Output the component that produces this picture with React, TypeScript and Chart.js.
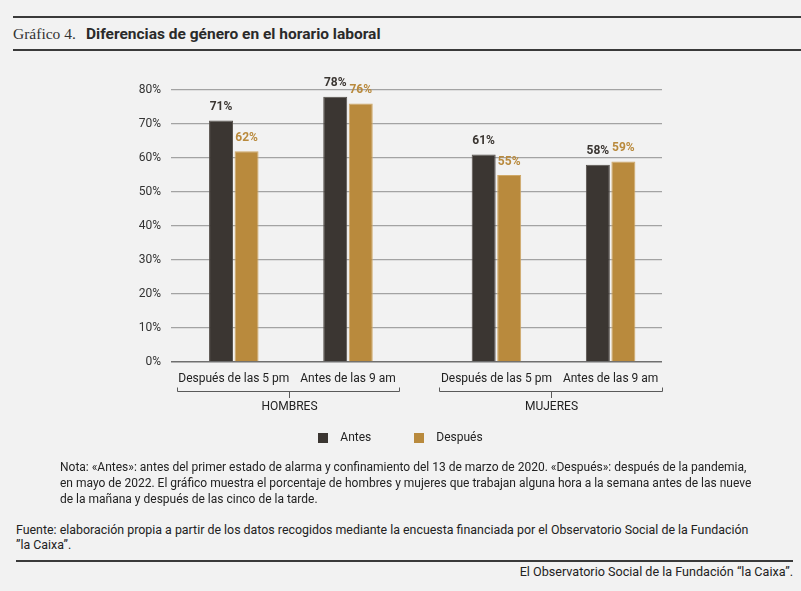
import { useEffect, useRef } from "react";
import { Chart, registerables } from "chart.js";

Chart.register(...registerables);

// ---- data ----
const groups = ["HOMBRES", "MUJERES"];
const categories = ["Después de las 5 pm", "Antes de las 9 am"];
const seriesNames = ["Antes", "Después"];
const antesValues = [71, 78, 61, 58];
const despuesValues = [62, 76, 55, 59];
const yTickValues = [0, 10, 20, 30, 40, 50, 60, 70, 80];

// ---- layout / style constants ----
const seriesColors = ["#3b3632", "#b98a3d"];
const seriesBorders = ["#55504b", "#cfa867"];
const GROUP_STRIDE = 2.3; // categories per group + gap, in x units
const FONT = "Roboto, 'Noto Sans', sans-serif";

const positions: number[] = [];
const tickLabels: string[] = [];
groups.forEach((_, g) => {
  categories.forEach((c, ci) => {
    positions.push(g * GROUP_STRIDE + ci);
    tickLabels.push(c);
  });
});

const annotatePlugin = {
  id: "annotate",
  afterDraw(chart: any) {
    const { ctx, chartArea, scales } = chart;
    const xs = scales.x;
    ctx.save();
    // value labels
    chart.data.datasets.forEach((ds: any, di: number) => {
      const meta = chart.getDatasetMeta(di);
      meta.data.forEach((el: any, i: number) => {
        const v = ds.data[i].y;
        ctx.fillStyle = seriesColors[di];
        ctx.font = `bold 12px ${FONT}`;
        ctx.textAlign = "center";
        ctx.textBaseline = "middle";
        ctx.fillText(v + "%", el.x, el.y - 13.5);
      });
    });
    // group brackets
    const by = Math.round(chartArea.bottom + 29) + 0.5;
    ctx.strokeStyle = "#5a5a5a";
    ctx.lineWidth = 1;
    groups.forEach((name, g) => {
      const start = g * GROUP_STRIDE;
      const x1 = Math.round(xs.getPixelForValue(start - 0.5)) + 0.5;
      const x2 = Math.round(xs.getPixelForValue(start + categories.length - 0.55)) + 0.5;
      const xm = Math.round((x1 + x2) / 2) + 0.5;
      ctx.beginPath();
      ctx.moveTo(x1, by - 4);
      ctx.lineTo(x1, by);
      ctx.lineTo(x2, by);
      ctx.lineTo(x2, by - 4);
      ctx.moveTo(xm, by);
      ctx.lineTo(xm, by + 6.5);
      ctx.stroke();
      ctx.fillStyle = "#222";
      ctx.font = `12px ${FONT}`;
      ctx.textAlign = "center";
      ctx.textBaseline = "middle";
      ctx.fillText(name, xm, chartArea.bottom + 44.5);
    });
    // legend
    ctx.font = `12px ${FONT}`;
    const box = 10;
    const gapText = 12;
    const gapItem = 43;
    const widths = seriesNames.map((n) => ctx.measureText(n).width);
    const total =
      widths.reduce((a: number, w: number) => a + box + gapText + w, 0) +
      gapItem * (seriesNames.length - 1);
    let lx = chart.width / 2 - total / 2;
    const ly = chartArea.bottom + 75.5;
    seriesNames.forEach((n, i) => {
      ctx.fillStyle = seriesColors[i];
      ctx.fillRect(Math.round(lx), Math.round(ly - box / 2), box, box);
      ctx.fillStyle = "#222";
      ctx.textAlign = "left";
      ctx.textBaseline = "middle";
      ctx.fillText(n, lx + box + gapText, ly);
      lx += box + gapText + widths[i] + gapItem;
    });
    ctx.restore();
  },
};

export default function App() {
  const ref = useRef<HTMLCanvasElement>(null);
  useEffect(() => {
    const chart = new Chart(ref.current!, {
      type: "bar",
      data: {
        datasets: [antesValues, despuesValues].map((vals, di) => ({
          label: seriesNames[di],
          data: vals.map((v, i) => ({ x: positions[i], y: v })),
          backgroundColor: seriesColors[di],
          borderColor: seriesBorders[di],
          borderWidth: 1,
          categoryPercentage: 0.447,
          barPercentage: 0.94,
        })),
      },
      options: {
        animation: false,
        responsive: false,
        layout: { padding: { left: 139, right: 139, top: 30, bottom: 0 } },
        plugins: { legend: { display: false }, tooltip: { enabled: false } },
        scales: {
          x: {
            type: "linear",
            offset: false,
            min: -0.55,
            max: 3.75,
            afterBuildTicks: (scale: any) => {
              scale.ticks = positions.map((p) => ({ value: p }));
            },
            afterFit: (scale: any) => {
              scale.height = 98;
            },
            ticks: {
              autoSkip: false,
              maxRotation: 0,
              padding: 2,
              color: "#222",
              font: { family: FONT, size: 12 },
              callback: (_v: any, i: number) => tickLabels[i],
            },
            grid: { display: false },
            border: { display: false },
          },
          y: {
            min: 0,
            max: 80,
            afterBuildTicks: (scale: any) => {
              scale.ticks = yTickValues.map((v) => ({ value: v }));
            },
            afterFit: (scale: any) => {
              scale.width = 32;
            },
            ticks: {
              padding: 10,
              color: "#333",
              font: { family: FONT, size: 12 },
              callback: (v: any) => v + "%",
            },
            grid: {
              drawTicks: false,
              color: (c: any) => (c.tick && c.tick.value === 0 ? "#6f6f6f" : "#a3a3a3"),
              lineWidth: (c: any) => (c.tick && c.tick.value === 0 ? 1.5 : 1.3),
            },
            border: { display: false },
          },
        },
      } as any,
      plugins: [annotatePlugin],
    });
    return () => chart.destroy();
  }, []);

  const rule = (top: number, left: number, right: number) => (
    <div
      style={{
        position: "absolute",
        left,
        right,
        top,
        height: 2,
        background: "#3a3a3a",
      }}
    />
  );

  return (
    <div
      style={{
        position: "fixed",
        left: 0,
        top: 0,
        width: 801,
        height: 591,
        background: "#f2f2f2",
        overflow: "hidden",
        fontFamily: FONT,
        color: "#222",
      }}
    >
      {rule(16, 13, 0)}
      <div
        style={{
          position: "absolute",
          left: 13,
          top: 26,
          fontFamily: "'Liberation Serif', serif",
          fontSize: 15.5,
          lineHeight: "16px",
          color: "#333",
          whiteSpace: "nowrap",
        }}
      >
        Gráfico 4.
      </div>
      <div
        style={{
          position: "absolute",
          left: 86,
          top: 26,
          fontSize: 15.5,
          fontWeight: 700,
          lineHeight: "16px",
          color: "#2a2a2a",
          whiteSpace: "nowrap",
        }}
      >
        Diferencias de género en el horario laboral
      </div>
      {rule(49, 13, 0)}
      <canvas
        ref={ref}
        width={801}
        height={400}
        style={{ position: "absolute", left: 0, top: 60, width: 801, height: 400 }}
      />
      <div
        style={{
          position: "absolute",
          left: 60,
          top: 459,
          fontSize: 12,
          lineHeight: "16px",
          whiteSpace: "nowrap",
        }}
      >
        Nota: «Antes»: antes del primer estado de alarma y confinamiento del 13 de marzo de 2020. «Después»: después de la pandemia,
        <br />
        en mayo de 2022. El gráfico muestra el porcentaje de hombres y mujeres que trabajan alguna hora a la semana antes de las nueve
        <br />
        de la mañana y después de las cinco de la tarde.
      </div>
      <div
        style={{
          position: "absolute",
          left: 16,
          top: 522,
          fontSize: 12.4,
          lineHeight: "15px",
          whiteSpace: "nowrap",
        }}
      >
        Fuente: elaboración propia a partir de los datos recogidos mediante la encuesta financiada por el Observatorio Social de la Fundación
        <br />
        ”la Caixa”.
      </div>
      {rule(560, 16, 8)}
      <div
        style={{
          position: "absolute",
          right: 8,
          top: 564,
          fontSize: 12.6,
          lineHeight: "16px",
          whiteSpace: "nowrap",
        }}
      >
        El Observatorio Social de la Fundación “la Caixa”.
      </div>
    </div>
  );
}
